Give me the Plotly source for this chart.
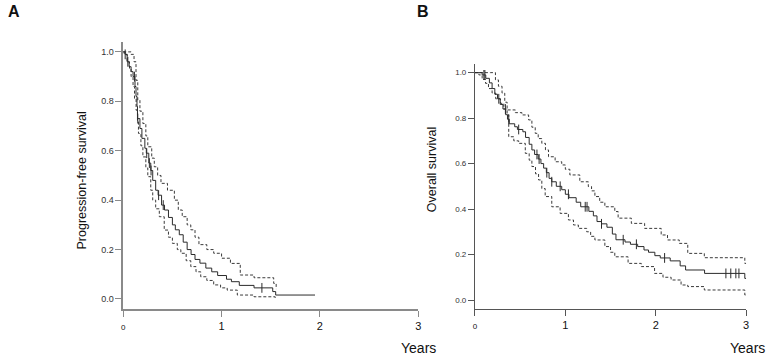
import numpy as np
import plotly.graph_objects as go

# ---------------- Panel A: progression-free survival ----------------
pfs_t = [0, 0.02, 0.04, 0.06, 0.08, 0.10, 0.12, 0.13, 0.14, 0.145, 0.17, 0.19, 0.22, 0.235,
         0.26, 0.28, 0.30, 0.33, 0.355, 0.39, 0.42, 0.46, 0.50, 0.53, 0.57, 0.61, 0.65, 0.69,
         0.73, 0.78, 0.84, 0.90, 0.96, 1.05, 1.10, 1.18, 1.33, 1.52, 1.55, 1.95]
pfs_s = [1.0, 0.99, 0.96, 0.94, 0.92, 0.90, 0.86, 0.82, 0.78, 0.73, 0.69, 0.65, 0.61, 0.59,
         0.55, 0.52, 0.48, 0.44, 0.42, 0.38, 0.36, 0.33, 0.30, 0.28, 0.26, 0.23, 0.20, 0.18,
         0.16, 0.145, 0.125, 0.11, 0.095, 0.08, 0.07, 0.055, 0.045, 0.03, 0.016, 0.016]
pfs_up_t = [0, 0.08, 0.11, 0.13, 0.148, 0.17, 0.20, 0.23, 0.25, 0.29, 0.316, 0.35, 0.384, 0.45,
            0.52, 0.56, 0.60, 0.65, 0.687, 0.73, 0.77, 0.85, 0.92, 1.0, 1.09, 1.19, 1.33, 1.53, 1.555]
pfs_up_s = [1.0, 0.99, 0.96, 0.885, 0.805, 0.76, 0.71, 0.66, 0.616, 0.57, 0.535, 0.50, 0.468, 0.44,
            0.40, 0.36, 0.333, 0.30, 0.28, 0.25, 0.22, 0.20, 0.185, 0.165, 0.144, 0.097, 0.086, 0.063, 0.04]
pfs_lo_t = [0, 0.01, 0.04, 0.064, 0.08, 0.10, 0.115, 0.131, 0.145, 0.155, 0.18, 0.20, 0.23, 0.25,
            0.28, 0.30, 0.33, 0.367, 0.417, 0.46, 0.50, 0.55, 0.586, 0.64, 0.687, 0.74, 0.788,
            0.85, 0.92, 0.99, 1.057, 1.16, 1.33, 1.545]
pfs_lo_s = [1.0, 0.99, 0.96, 0.933, 0.90, 0.86, 0.81, 0.764, 0.72, 0.67, 0.62, 0.575, 0.53, 0.495,
            0.44, 0.40, 0.365, 0.333, 0.279, 0.25, 0.225, 0.20, 0.185, 0.155, 0.131, 0.11, 0.09,
            0.075, 0.057, 0.045, 0.036, 0.016, 0.009, 0.0]
pfs_cens_t = [0.02, 0.047, 0.114, 0.148, 0.239, 0.266, 0.283, 0.36, 0.407, 1.41]

# ---------------- Panel B: overall survival ----------------
os_t = [0, 0.08, 0.12, 0.16, 0.19, 0.22, 0.25, 0.28, 0.31, 0.34, 0.36, 0.38, 0.44, 0.47, 0.53,
        0.56, 0.60, 0.63, 0.66, 0.70, 0.73, 0.76, 0.79, 0.82, 0.85, 0.90, 0.96, 1.00, 1.04, 1.12,
        1.17, 1.26, 1.31, 1.35, 1.40, 1.46, 1.52, 1.56, 1.66, 1.72, 1.80, 1.87, 1.92, 1.99, 2.05,
        2.16, 2.27, 2.33, 2.54, 2.985, 3.0]
os_s = [1.0, 0.99, 0.975, 0.955, 0.93, 0.905, 0.885, 0.86, 0.84, 0.815, 0.795, 0.775, 0.762, 0.75,
        0.74, 0.715, 0.685, 0.66, 0.64, 0.62, 0.60, 0.58, 0.56, 0.535, 0.52, 0.50, 0.485, 0.465,
        0.45, 0.43, 0.41, 0.39, 0.37, 0.345, 0.335, 0.32, 0.29, 0.265, 0.255, 0.245, 0.235, 0.22,
        0.21, 0.195, 0.185, 0.172, 0.15, 0.132, 0.117, 0.095, 0.095]
os_up_t = [0, 0.17, 0.227, 0.26, 0.30, 0.33, 0.356, 0.447, 0.52, 0.594, 0.63, 0.667, 0.70, 0.74,
           0.78, 0.814, 0.887, 0.96, 1.0, 1.05, 1.16, 1.254, 1.29, 1.327, 1.38, 1.437, 1.547,
           1.584, 1.73, 1.877, 2.06, 2.13, 2.26, 2.354, 2.537, 2.985, 3.0]
os_up_s = [1.0, 1.0, 0.968, 0.94, 0.91, 0.87, 0.836, 0.824, 0.814, 0.792, 0.76, 0.733, 0.71, 0.689,
           0.66, 0.63, 0.608, 0.594, 0.575, 0.55, 0.52, 0.499, 0.48, 0.455, 0.43, 0.41, 0.389,
           0.36, 0.337, 0.315, 0.286, 0.264, 0.249, 0.205, 0.186, 0.161, 0.161]
os_lo_t = [0, 0.044, 0.08, 0.117, 0.15, 0.19, 0.23, 0.282, 0.32, 0.356, 0.374, 0.43, 0.484, 0.557,
           0.60, 0.63, 0.67, 0.704, 0.74, 0.777, 0.85, 0.942, 1.034, 1.09, 1.144, 1.236, 1.28,
           1.327, 1.437, 1.50, 1.547, 1.694, 1.84, 1.987, 2.08, 2.17, 2.28, 2.354, 2.537, 2.985, 3.0]
os_lo_s = [1.0, 0.99, 0.97, 0.953, 0.93, 0.91, 0.885, 0.865, 0.84, 0.814, 0.718, 0.70, 0.689, 0.645,
           0.615, 0.587, 0.555, 0.528, 0.49, 0.455, 0.41, 0.381, 0.352, 0.33, 0.315, 0.30, 0.28,
           0.264, 0.235, 0.21, 0.19, 0.161, 0.147, 0.117, 0.10, 0.088, 0.066, 0.059, 0.044, 0.022, 0.022]
os_cens_t = [0.099, 0.11, 0.264, 0.337, 0.374, 0.484, 0.686, 0.71, 0.795, 0.85, 0.943, 1.034,
             1.22, 1.24, 1.40, 1.64, 1.786, 2.098, 2.776, 2.83, 2.886, 2.92]

x_ticks = [0, 1, 2, 3]
x_ticktext = ["<span style='font-size:8px'>0</span>", "1", "2", "3"]
y_ticks = [0, 0.2, 0.4, 0.6, 0.8, 1.0]
y_ticktext = ["0.0", "0.2", "0.4", "0.6", "0.8", "1.0"]


def step_at(ts, ss, q):
    ts = np.asarray(ts)
    ss = np.asarray(ss)
    idx = np.searchsorted(ts, q, side="right") - 1
    return ss[idx].tolist()


W, H = 774, 358
SOLID = "#2b2b2b"
DASH = "#3a3a3a"

fig = go.Figure()


def add_panel(xa, ya, t, s, ut, us, lt, ls, ct):
    for tt, vv in ((ut, us), (lt, ls)):
        fig.add_trace(go.Scatter(x=tt, y=vv, mode="lines", line_shape="hv",
                                 line=dict(color=DASH, width=1, dash="3px,2px"),
                                 xaxis=xa, yaxis=ya, showlegend=False, hoverinfo="skip"))
    fig.add_trace(go.Scatter(x=t, y=s, mode="lines", line_shape="hv",
                             line=dict(color=SOLID, width=1),
                             xaxis=xa, yaxis=ya, showlegend=False))
    fig.add_trace(go.Scatter(x=ct, y=step_at(t, s, ct), mode="markers",
                             marker=dict(symbol="line-ns", size=7,
                                         line=dict(width=1, color=SOLID)),
                             xaxis=xa, yaxis=ya, showlegend=False))


add_panel("x", "y", pfs_t, pfs_s, pfs_up_t, pfs_up_s, pfs_lo_t, pfs_lo_s, pfs_cens_t)
add_panel("x2", "y2", os_t, os_s, os_up_t, os_up_s, os_lo_t, os_lo_s, os_cens_t)

ax_common = dict(showgrid=False, zeroline=False, ticks="outside", ticklen=6,
                 tickwidth=1, showline=True, mirror=False)

fig.update_layout(
    width=W, height=H,
    margin=dict(l=0, r=0, t=0, b=0),
    paper_bgcolor="white", plot_bgcolor="white",
    font=dict(family="Liberation Sans, Arial, sans-serif", color="#222"),
    xaxis=dict(domain=[122 / W, 419 / W], range=[0, 3], tickvals=x_ticks, ticktext=x_ticktext,
               linecolor="#8a8a8a", linewidth=1.5, tickcolor="#8a8a8a",
               tickfont=dict(size=11, color="#111"), anchor="y", **ax_common),
    yaxis=dict(domain=[1 - 309 / H, 1 - 42 / H], range=[-0.0405, 1.04],
               tickvals=y_ticks, ticktext=y_ticktext,
               linecolor="#8a8a8a", linewidth=1.5, tickcolor="#8a8a8a",
               tickfont=dict(size=9, color="#333"), anchor="x", **ax_common),
    xaxis2=dict(domain=[476 / W, 749 / W], range=[0, 3], tickvals=x_ticks, ticktext=x_ticktext,
                linecolor="#555", linewidth=1, tickcolor="#555",
                tickfont=dict(size=11, color="#111"), anchor="y2", **ax_common),
    yaxis2=dict(domain=[1 - 309 / H, 1 - 64 / H], range=[-0.0396, 1.038],
                tickvals=y_ticks, ticktext=y_ticktext,
                linecolor="#555", linewidth=1, tickcolor="#555",
                tickfont=dict(size=8, color="#333"), anchor="x2", **ax_common),
)

ann = [
    dict(text="<b>A</b>", x=12 / W, y=1 - 12 / H, font=dict(size=16, color="#111")),
    dict(text="<b>B</b>", x=424 / W, y=1 - 12 / H, font=dict(size=16, color="#111")),
    dict(text="Years", x=419 / W, y=1 - 348 / H, font=dict(size=14, color="#111")),
    dict(text="Years", x=750 / W, y=1 - 348 / H, font=dict(size=14, color="#111")),
    dict(text="Progression-free survival", x=81 / W, y=1 - 180 / H, textangle=-90,
         font=dict(size=12.5, color="#111")),
    dict(text="Overall survival", x=433 / W, y=1 - 170 / H, textangle=-90,
         font=dict(size=12.5, color="#111")),
]
for a in ann:
    fig.add_annotation(xref="paper", yref="paper", showarrow=False,
                       xanchor="center", yanchor="middle", **a)

fig.write_html("out.html", config={"displayModeBar": False},
               post_script="document.body.style.margin='0';document.body.style.overflow='hidden';")
